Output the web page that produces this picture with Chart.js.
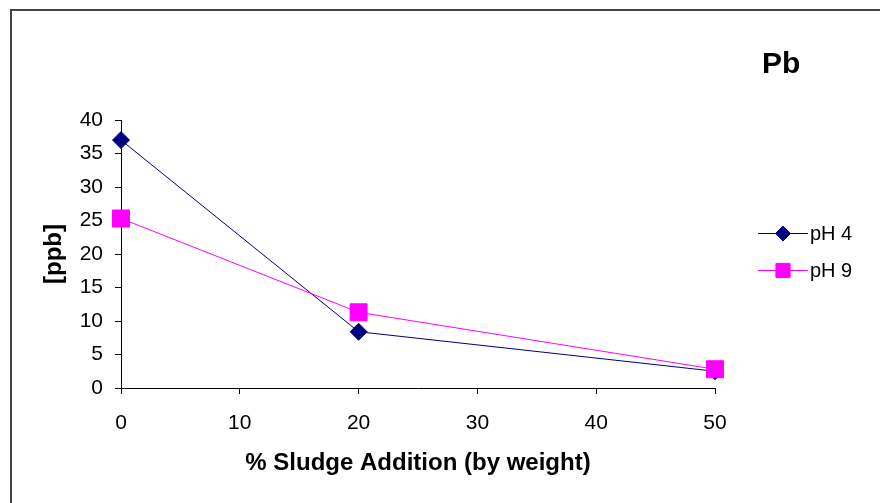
<!DOCTYPE html>
<html>
<head>
<meta charset="utf-8">
<script src="https://cdn.jsdelivr.net/npm/chart.js@4.4.0/dist/chart.umd.min.js"></script>
<style>
html,body{margin:0;padding:0;background:#fff;}
#wrap{width:880px;height:503px;position:relative;}
</style>
</head>
<body>
<div id="wrap"><canvas id="c" width="880" height="503"></canvas></div>
<script>
// Data
const sludgePct = [0, 20, 50];
const ph4Values = [37.0, 8.4, 2.5];
const ph9Values = [25.3, 11.3, 2.8];
const seriesNames = ['pH 4', 'pH 9'];
const chartTitle = 'Pb';
const xTitle = '% Sludge Addition (by weight)';
const yTitle = '[ppb]';

const FONT = "'Liberation Sans', Arial, sans-serif";

const toPoints = vals => sludgePct.map((x, i) => ({x: x, y: vals[i]}));

const framePlugin = {
  id: 'frame',
  beforeDraw(chart) {
    const ctx = chart.ctx;
    ctx.save();
    ctx.fillStyle = '#ffffff';
    ctx.fillRect(0, 0, chart.width, chart.height);
    ctx.strokeStyle = '#444444';
    ctx.lineWidth = 2;
    ctx.strokeRect(11, 10, chart.width + 20, chart.height + 20);
    ctx.restore();
  },
  afterDraw(chart) {
    const ctx = chart.ctx;
    ctx.save();
    // Title
    ctx.fillStyle = '#000';
    ctx.font = "bold 30px " + FONT;
    ctx.textAlign = 'left';
    ctx.textBaseline = 'alphabetic';
    ctx.fillText(chartTitle, 762, 73);
    // Legend
    const rows = [233, 270];
    chart.data.datasets.forEach((ds, i) => {
      const y = rows[i];
      ctx.strokeStyle = ds.borderColor;
      ctx.lineWidth = 1;
      ctx.beginPath();
      ctx.moveTo(758, y + 0.5);
      ctx.lineTo(808, y + 0.5);
      ctx.stroke();
      ctx.fillStyle = ds.pointBackgroundColor;
      ctx.strokeStyle = ds.pointBorderColor;
      Chart.helpers.drawPoint(ctx, {
        pointStyle: ds.pointStyle,
        radius: ds.legendRadius,
        borderWidth: 1
      }, 783, y + 0.5);
      ctx.fillStyle = '#000';
      ctx.font = "20px " + FONT;
      ctx.textAlign = 'left';
      ctx.textBaseline = 'middle';
      ctx.fillText(ds.label, 810, y + 1);
    });
    ctx.restore();
  }
};

new Chart(document.getElementById('c'), {
  type: 'line',
  data: {
    datasets: [
      {
        label: seriesNames[0],
        data: toPoints(ph4Values),
        borderColor: '#000080',
        backgroundColor: '#000080',
        pointBackgroundColor: '#000080',
        pointBorderColor: '#000080',
        pointStyle: 'rectRot',
        pointRadius: 8.5,
        legendRadius: 7.5,
        borderWidth: 1,
        tension: 0,
        clip: false,
        order: 2
      },
      {
        label: seriesNames[1],
        data: toPoints(ph9Values),
        borderColor: '#ff00ff',
        backgroundColor: '#ff00ff',
        pointBackgroundColor: '#ff00ff',
        pointBorderColor: '#ff00ff',
        pointStyle: 'rect',
        pointRadius: 12,
        legendRadius: 10,
        borderWidth: 1,
        tension: 0,
        clip: false,
        order: 1
      }
    ]
  },
  options: {
    responsive: false,
    animation: false,
    events: [],
    layout: {padding: {left: 0, top: 120, right: 165, bottom: 0}},
    plugins: {
      legend: {display: false},
      title: {display: false},
      tooltip: {enabled: false}
    },
    scales: {
      x: {
        type: 'linear',
        min: 0,
        max: 50,
        afterFit(scale) { scale.height = 115; },
        ticks: {
          stepSize: 10,
          color: '#000',
          padding: 17,
          font: {family: FONT, size: 21}
        },
        grid: {drawOnChartArea: false, tickLength: 6, color: '#000', tickColor: '#000'},
        border: {color: '#000', width: 1},
        title: {
          display: true,
          text: xTitle,
          color: '#000',
          font: {family: FONT, size: 24, weight: 'bold'},
          padding: {top: 0, bottom: 25}
        }
      },
      y: {
        type: 'linear',
        min: 0,
        max: 40,
        afterFit(scale) { scale.width = 121; },
        ticks: {
          stepSize: 5,
          color: '#000',
          padding: 12,
          font: {family: FONT, size: 21}
        },
        grid: {drawOnChartArea: false, tickLength: 6, color: '#000', tickColor: '#000'},
        border: {color: '#000', width: 1},
        title: {
          display: true,
          text: yTitle,
          color: '#000',
          font: {family: FONT, size: 24, weight: 'bold'},
          padding: {top: 40, bottom: 0}
        }
      }
    }
  },
  plugins: [framePlugin]
});
</script>
</body>
</html>
